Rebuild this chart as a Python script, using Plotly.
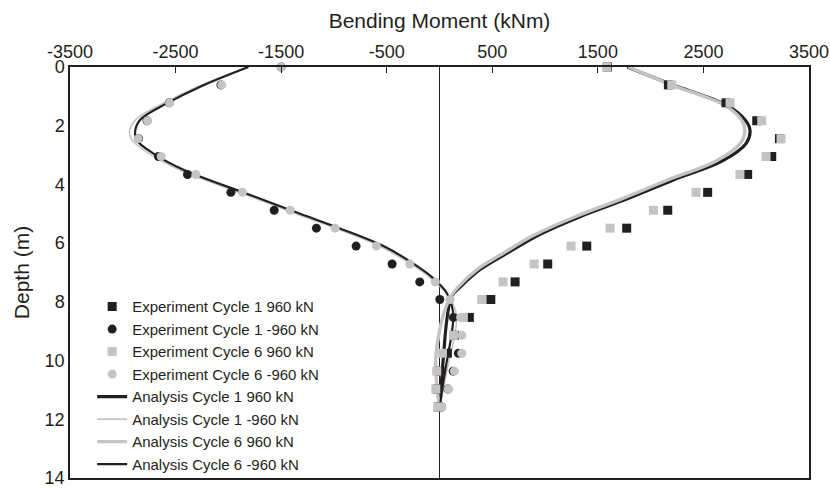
import plotly.graph_objects as go

# Gauge depths along the pile (m)
depth = [0.00, 0.61, 1.22, 1.83, 2.44, 3.05, 3.66, 4.27, 4.88, 5.49,
         6.10, 6.71, 7.32, 7.92, 8.53, 9.14, 9.75, 10.36, 10.97, 11.58]

# Measured bending moments (kNm)
exp_c1_pos = [1590, 2168, 2714, 3005, 3220, 3147, 2919, 2540, 2162, 1773,
              1395, 1025, 716, 486, 283, 140, 75, 6, -20, -10]
exp_c1_neg = [-1500, -2070, -2560, -2770, -2850, -2662, -2387, -1976, -1566, -1166,
              -790, -449, -187, 3, 132, 150, 179, 130, 80, 20]
exp_c6_pos = [1584, 2200, 2752, 3052, 3235, 3093, 2846, 2430, 2026, 1616,
              1246, 896, 602, 400, 226, 132, 28, -26, -35, -16]
exp_c6_neg = [-1500, -2062, -2557, -2766, -2854, -2636, -2308, -1866, -1415, -989,
              -598, -281, -39, 100, 200, 211, 211, 141, 84, 22]

# Computed profiles (depth in m, moment in kNm)
ana_c1_pos_d = [0, 0.6, 1.3, 1.8, 2.15, 2.6, 3.2, 3.85, 4.5, 5.1, 5.7, 6.35, 6.9, 7.5, 7.8, 8.6, 9.75, 10.9, 11.7]
ana_c1_pos_m = [1780, 2200, 2721, 2894, 2941, 2905, 2680, 2215, 1774, 1331, 953, 637, 384, 195, 116, 70, 40, 15, 0]

ana_c6_pos_d = [0, 0.6, 1.3, 1.8, 2.15, 2.6, 3.2, 3.85, 4.5, 5.1, 5.7, 6.35, 6.9, 7.5, 7.8, 8.4, 9.2, 9.9, 10.9, 11.6]
ana_c6_pos_m = [1790, 2190, 2700, 2860, 2893, 2850, 2620, 2160, 1720, 1285, 910, 600, 355, 175, 110, 40, -10, -35, -25, 0]

ana_neg_d = [0, 0.67, 1.24, 1.8, 2.2, 2.5, 2.95, 3.5, 4.36, 5.0, 5.5, 6.1, 6.7, 7.2, 7.7, 8.4, 9.2, 10.0, 11.0, 11.7]
ana_c6_neg_m = [-1810, -2267, -2583, -2835, -2883, -2867, -2709, -2425, -1793, -1320, -942, -531, -247, -58, 69, 130, 110, 70, 25, 0]
ana_c1_neg_m = [-1810, -2290, -2620, -2880, -2937, -2910, -2750, -2465, -1830, -1360, -980, -570, -275, -80, 60, 160, 140, 90, 35, 0]

x_ticks = [-3500, -2500, -1500, -500, 500, 1500, 2500, 3500]
x_tick_text = ["-3500", "-2500", "-1500", "-500", "500", "1500", "2500", "3500"]
y_ticks = [0, 2, 4, 6, 8, 10, 12, 14]

BLACK = "#231f20"
GRAY = "#c4c4c4"
FONT = "Liberation Sans, Arial, sans-serif"

fig = go.Figure()

# analysis curves (drawn beneath the measured points)
fig.add_trace(go.Scatter(x=ana_c1_pos_m, y=ana_c1_pos_d, mode="lines", name="Analysis Cycle 1 960 kN",
                         line=dict(color=BLACK, width=3.2, shape="spline", smoothing=1), legendrank=5))
fig.add_trace(go.Scatter(x=ana_c6_pos_m, y=ana_c6_pos_d, mode="lines", name="Analysis Cycle 6 960 kN",
                         line=dict(color=GRAY, width=3.4, shape="spline", smoothing=1), legendrank=7))
fig.add_trace(go.Scatter(x=ana_c1_neg_m, y=ana_neg_d, mode="lines", name="Analysis Cycle 1 -960 kN",
                         line=dict(color=GRAY, width=1.6, shape="spline", smoothing=1), legendrank=6))
fig.add_trace(go.Scatter(x=ana_c6_neg_m, y=ana_neg_d, mode="lines", name="Analysis Cycle 6 -960 kN",
                         line=dict(color=BLACK, width=2.2, shape="spline", smoothing=1), legendrank=8))

# measured points
fig.add_trace(go.Scatter(x=exp_c1_pos, y=depth, mode="markers", name="Experiment Cycle 1 960 kN",
                         marker=dict(symbol="square", size=9, color=BLACK), cliponaxis=False, legendrank=1))
fig.add_trace(go.Scatter(x=exp_c1_neg, y=depth, mode="markers", name="Experiment Cycle 1 -960 kN",
                         marker=dict(symbol="circle", size=9, color=BLACK), cliponaxis=False, legendrank=2))
fig.add_trace(go.Scatter(x=exp_c6_pos, y=depth, mode="markers", name="Experiment Cycle 6 960 kN",
                         marker=dict(symbol="square", size=9, color=GRAY), cliponaxis=False, legendrank=3))
fig.add_trace(go.Scatter(x=exp_c6_neg, y=depth, mode="markers", name="Experiment Cycle 6 -960 kN",
                         marker=dict(symbol="circle", size=9, color=GRAY), cliponaxis=False, legendrank=4))

fig.update_layout(
    width=830, height=488,
    margin=dict(l=70, r=21, t=67, b=10, autoexpand=False),
    paper_bgcolor="white", plot_bgcolor="white",
    font=dict(family=FONT, size=18, color=BLACK),
    showlegend=True,
    legend=dict(x=0.03, y=0.405, xref="paper", yref="container",
                xanchor="left", yanchor="top",
                bgcolor="rgba(0,0,0,0)", borderwidth=0,
                font=dict(family=FONT, size=15, color=BLACK), tracegroupgap=0),
    xaxis=dict(
        title=dict(text="Bending Moment (kNm)", font=dict(size=21), standoff=8),
        side="top", range=[-3500, 3500], tickvals=x_ticks, ticktext=x_tick_text,
        ticks="inside", ticklen=6, tickcolor=BLACK, tickwidth=1,
        showline=True, linecolor=BLACK, linewidth=1.5, mirror=True,
        showgrid=False, zeroline=True, zerolinecolor=BLACK, zerolinewidth=1.2,
        tickfont=dict(size=18), automargin=False, ticklabeloverflow="allow",
    ),
    yaxis=dict(
        title=dict(text="Depth (m)", font=dict(size=21), standoff=9),
        range=[14, 0], tickvals=y_ticks,
        ticks="", showline=True, linecolor=BLACK, linewidth=1.5, mirror=True,
        showgrid=False, zeroline=False, tickfont=dict(size=18), automargin=False,
        ticklabeloverflow="allow",
    ),
)

fig.write_html("out.html")
